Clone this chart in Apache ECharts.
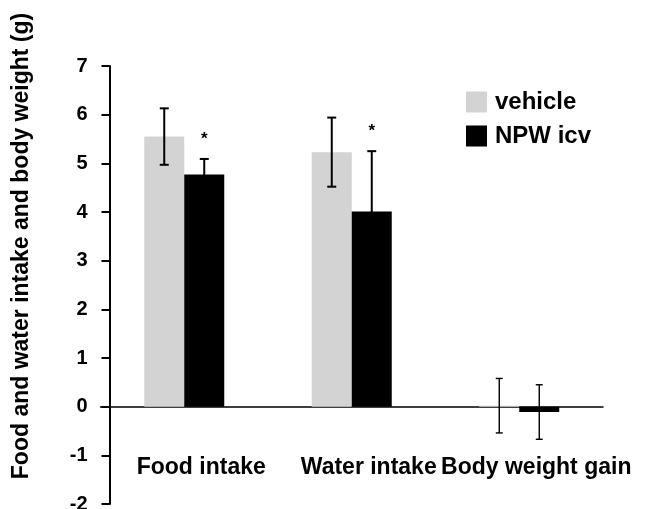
<!DOCTYPE html>
<html>
<head>
<meta charset="utf-8">
<script src="https://cdn.jsdelivr.net/npm/echarts@6/dist/echarts.min.js"></script>
<style>
html,body{margin:0;padding:0;background:#fff;}
#chart{width:648px;height:509px;}
</style>
</head>
<body>
<div id="chart"></div>
<script>
const categories = ['Food intake', 'Water intake', 'Body weight gain'];
const seriesNames = ['vehicle', 'NPW icv'];
const vehicleMean = [5.55, 5.23, 0.02];
const vehicleSD = [0.58, 0.71, 0.56];
const npwMean = [4.77, 4.01, -0.11];
const npwSD = [0.32, 1.24, 0.56];
const significance = ['', '', ''];
const npwSignificance = ['*', '*', ''];
const yMin = -2, yMax = 7, yInterval = 1;
const yTitle = 'Food and water intake and body weight (g)';

const FONT = "'Liberation Sans', Arial, sans-serif";
const BAR_W = 40;

function errData(means, sds, sig) {
  return means.map((m, i) => [i, m, sds[i], sig[i]]);
}

function errRender(side) {
  return function (params, api) {
    const idx = api.value(0);
    const mean = api.value(1);
    const sd = api.value(2);
    const sig = api.value(3);
    const c = api.coord([idx, mean]);
    const x = c[0] + side * BAR_W / 2;
    const top = api.coord([idx, mean + sd])[1];
    const bot = api.coord([idx, mean - sd])[1];
    const lw = idx === 2 ? 1.4 : 2;
    const cap = idx === 2 ? 3.5 : 4.5;
    const style = { stroke: '#000', lineWidth: lw };
    const children = [
      { type: 'line', shape: { x1: x, y1: top, x2: x, y2: bot }, style },
      { type: 'line', shape: { x1: x - cap, y1: top, x2: x + cap, y2: top }, style },
      { type: 'line', shape: { x1: x - cap, y1: bot, x2: x + cap, y2: bot }, style }
    ];
    if (sig) {
      children.push({
        type: 'text',
        style: { x: x, y: top - 20, text: sig, fill: '#000', font: "bold 17px " + FONT, textAlign: 'center', textVerticalAlign: 'middle' }
      });
    }
    return { type: 'group', children };
  };
}

const chart = echarts.init(document.getElementById('chart'), null, { renderer: 'canvas' });
chart.setOption({
  animation: false,
  backgroundColor: '#fff',
  grid: { left: 100.5, top: 66, width: 502.5, bottom: 5, containLabel: false, outerBoundsMode: 'none' },
  legend: {
    data: seriesNames,
    orient: 'vertical',
    left: 466, top: 90,
    padding: 0,
    itemWidth: 21, itemHeight: 21, itemGap: 10,
    icon: 'rect',
    textStyle: { fontFamily: FONT, fontSize: 24, fontWeight: 'bold', color: '#000', padding: [0, 0, 0, 3] }
  },
  graphic: [{
    type: 'text',
    x: 22, y: 246,
    rotation: Math.PI / 2,
    style: { text: yTitle, font: "bold 23px " + FONT, fill: '#000', textAlign: 'center', textVerticalAlign: 'middle' }
  }],
  xAxis: {
    type: 'category',
    data: categories,
    axisLine: { onZero: true, lineStyle: { color: '#000', width: 1.5 } },
    axisTick: { show: false },
    axisLabel: { fontFamily: FONT, fontSize: 23, fontWeight: 'bold', color: '#000', margin: -48, padding: [0, 0, 0, 34], interval: 0 },
    splitLine: { show: false }
  },
  yAxis: {
    type: 'value',
    min: yMin, max: yMax, interval: yInterval,
    offset: -9,
    axisLine: { show: true, lineStyle: { color: '#000', width: 2 } },
    axisTick: { show: true, inside: false, length: 8, lineStyle: { color: '#000', width: 2 } },
    axisLabel: { fontFamily: FONT, fontSize: 20, fontWeight: 'bold', color: '#000', margin: 22 },
    splitLine: { show: false }
  },
  series: [
    { name: seriesNames[0], type: 'bar', data: vehicleMean, barWidth: BAR_W, barGap: '0%', itemStyle: { color: '#d3d3d3' } },
    { name: seriesNames[1], type: 'bar', data: npwMean, barWidth: BAR_W, barGap: '0%', itemStyle: { color: '#000' } },
    { type: 'custom', renderItem: errRender(-1), data: errData(vehicleMean, vehicleSD, significance), z: 5 },
    { type: 'custom', renderItem: errRender(1), data: errData(npwMean, npwSD, npwSignificance), z: 5 }
  ]
});
</script>
</body>
</html>
